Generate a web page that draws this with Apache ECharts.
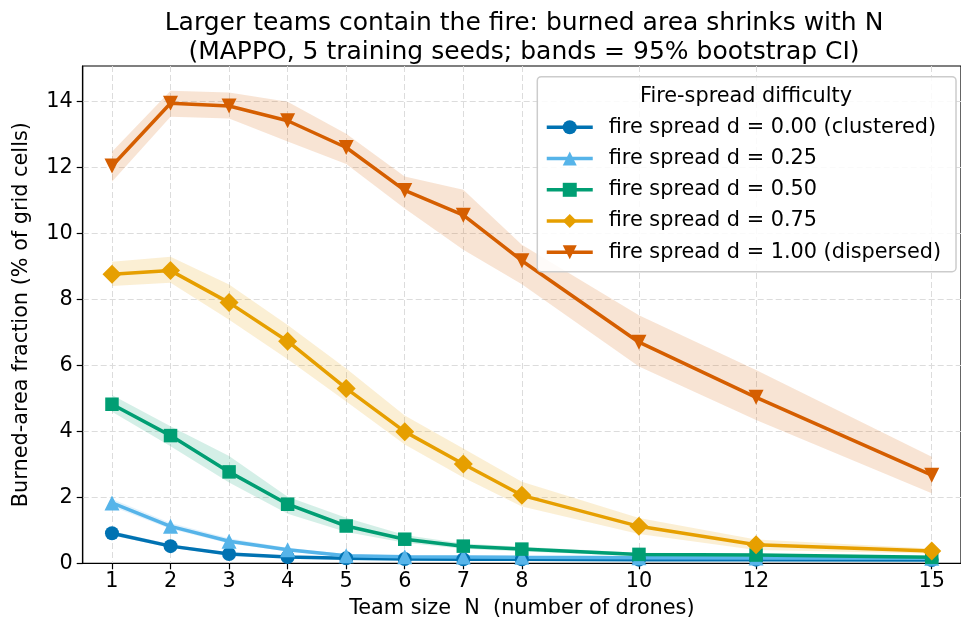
<!DOCTYPE html>
<html>
<head>
<meta charset="utf-8">
<script src="https://cdn.jsdelivr.net/npm/echarts@6/dist/echarts.min.js"></script>
<style>
  html, body { margin: 0; padding: 0; background: #fff; }
  #chart { width: 961px; height: 627px; }
</style>
</head>
<body>
<div id="chart"></div>
<script>
// Team sizes (x) and tick labels
const teamSizes = [1, 2, 3, 4, 5, 6, 7, 8, 10, 12, 15];
const xTicks = [1, 2, 3, 4, 5, 6, 7, 8, 10, 12, 15];
const yTicks = [0, 2, 4, 6, 8, 10, 12, 14];

// Burned-area fraction (% of grid cells): mean and 95% bootstrap CI bounds
const d000Mean = [0.91, 0.52, 0.28, 0.19, 0.15, 0.13, 0.12, 0.12, 0.11, 0.11, 0.10];
const d000Lo   = [0.84, 0.47, 0.24, 0.16, 0.13, 0.11, 0.10, 0.10, 0.09, 0.09, 0.08];
const d000Hi   = [0.98, 0.58, 0.32, 0.22, 0.17, 0.15, 0.14, 0.14, 0.13, 0.13, 0.12];

const d025Mean = [1.83, 1.12, 0.67, 0.41, 0.23, 0.20, 0.19, 0.18, 0.17, 0.16, 0.15];
const d025Lo   = [1.72, 1.04, 0.60, 0.36, 0.20, 0.17, 0.16, 0.15, 0.14, 0.13, 0.12];
const d025Hi   = [1.95, 1.22, 0.76, 0.47, 0.28, 0.24, 0.22, 0.21, 0.20, 0.19, 0.18];

const d050Mean = [4.82, 3.87, 2.77, 1.79, 1.13, 0.73, 0.52, 0.43, 0.27, 0.25, 0.18];
const d050Lo   = [4.59, 3.55, 2.45, 1.50, 0.95, 0.62, 0.44, 0.36, 0.22, 0.20, 0.14];
const d050Hi   = [5.10, 4.15, 3.25, 2.02, 1.38, 0.86, 0.60, 0.50, 0.32, 0.30, 0.22];

const d075Mean = [8.76, 8.87, 7.90, 6.73, 5.30, 3.99, 3.01, 2.06, 1.12, 0.56, 0.37];
const d075Lo   = [8.40, 8.50, 7.38, 6.18, 4.90, 3.60, 2.60, 1.72, 0.89, 0.40, 0.30];
const d075Hi   = [9.14, 9.29, 8.45, 7.22, 5.90, 4.48, 3.48, 2.47, 1.37, 0.72, 0.45];

const d100Mean = [12.04, 13.94, 13.86, 13.41, 12.60, 11.30, 10.55, 9.17, 6.70, 5.03, 2.67];
const d100Lo   = [11.56, 13.53, 13.48, 12.78, 12.10, 10.75, 9.50, 8.46, 5.96, 4.34, 2.12];
const d100Hi   = [12.47, 14.32, 14.27, 13.99, 13.02, 11.72, 11.32, 9.65, 7.52, 5.86, 3.23];

const seriesNames = [
  'fire spread d = 0.00 (clustered)',
  'fire spread d = 0.25',
  'fire spread d = 0.50',
  'fire spread d = 0.75',
  'fire spread d = 1.00 (dispersed)'
];

const FONT = 'DejaVu Sans';
const LINE_W = 3.5;

const groups = [
  { name: seriesNames[0], mean: d000Mean, lo: d000Lo, hi: d000Hi, color: '#0072B2', band: 'rgba(0,114,178,0.17)',   symbol: 'circle',   size: 14,   rotate: 0 },
  { name: seriesNames[1], mean: d025Mean, lo: d025Lo, hi: d025Hi, color: '#56B4E9', band: 'rgba(86,180,233,0.17)',  symbol: 'triangle', size: 15,   rotate: 0 },
  { name: seriesNames[2], mean: d050Mean, lo: d050Lo, hi: d050Hi, color: '#009E73', band: 'rgba(0,158,115,0.17)',   symbol: 'rect',     size: 13.5, rotate: 0 },
  { name: seriesNames[3], mean: d075Mean, lo: d075Lo, hi: d075Hi, color: '#E69F00', band: 'rgba(230,159,0,0.17)',   symbol: 'diamond',  size: 19,   rotate: 0 },
  { name: seriesNames[4], mean: d100Mean, lo: d100Lo, hi: d100Hi, color: '#D55E00', band: 'rgba(213,94,0,0.17)',    symbol: 'triangle', size: 15,   rotate: 180 }
];

// Shaded confidence band drawn as one polygon through the axis scales
function bandSeries(g) {
  return {
    type: 'custom',
    silent: true,
    clip: true,
    data: teamSizes.map((n, i) => [n, g.lo[i], g.hi[i]]),
    encode: { x: 0, y: [1, 2] },
    renderItem: function (params, api) {
      if (params.dataIndex !== 0) return null;
      const pts = [];
      for (let i = 0; i < teamSizes.length; i++) pts.push(api.coord([teamSizes[i], g.hi[i]]));
      for (let i = teamSizes.length - 1; i >= 0; i--) pts.push(api.coord([teamSizes[i], g.lo[i]]));
      return { type: 'polygon', shape: { points: pts }, style: { fill: g.band, stroke: null } };
    }
  };
}

function lineSeries(g) {
  return {
    name: g.name,
    type: 'line',
    data: teamSizes.map((n, i) => [n, g.mean[i]]),
    symbol: g.symbol,
    symbolSize: g.size,
    symbolRotate: g.rotate,
    showAllSymbol: true,
    lineStyle: { color: g.color, width: LINE_W },
    itemStyle: { color: g.color },
    emphasis: { disabled: true },
    animation: false
  };
}

const series = [];
groups.forEach(g => { series.push(bandSeries(g)); series.push(lineSeries(g)); });

const chart = echarts.init(document.getElementById('chart'), null, { renderer: 'canvas' });
chart.setOption({
  animation: false,
  backgroundColor: '#ffffff',
  textStyle: { fontFamily: FONT, color: '#000' },
  title: {
    text: 'Larger teams contain the fire: burned area shrinks with N\n(MAPPO, 5 training seeds; bands = 95% bootstrap CI)',
    left: 524,
    top: 9,
    textAlign: 'center',
    padding: 0,
    textStyle: { fontFamily: FONT, fontSize: 25, fontWeight: 'normal', color: '#000', lineHeight: 29 }
  },
  grid: {
    left: 82.7, top: 66, right: -3.9, bottom: 63.7,
    show: true, borderColor: '#000', borderWidth: 1.2, backgroundColor: 'transparent',
    containLabel: false
  },
  legend: {
    data: seriesNames,
    orient: 'vertical',
    left: 537.3,
    top: 76.7,
    padding: [39.6, 15, 8.4, 7.7],
    itemWidth: 46,
    itemHeight: 17.5,
    itemGap: 9.25,
    backgroundColor: 'rgba(255,255,255,0.85)',
    borderColor: '#cccccc',
    borderWidth: 1.5,
    borderRadius: 4,
    selectedMode: false,
    lineStyle: { width: LINE_W },
    textStyle: { fontFamily: FONT, fontSize: 20.8, color: '#000', lineHeight: 22, padding: [0, 0, 0, 11] }
  },
  graphic: [{
    type: 'text',
    x: 746,
    y: 96.5,
    z: 100,
    style: {
      text: 'Fire-spread difficulty',
      fontFamily: FONT, fontSize: 20.8, fill: '#000',
      textAlign: 'center', textVerticalAlign: 'middle'
    }
  }],
  xAxis: {
    type: 'value',
    min: 0.5,
    max: 15.5,
    name: 'Team size  N  (number of drones)',
    nameLocation: 'middle',
    nameGap: 35,
    nameTextStyle: { fontFamily: FONT, fontSize: 20.8, color: '#000' },
    axisLine: { show: true, onZero: false, lineStyle: { color: '#000', width: 1.2 } },
    axisTick: { show: true, inside: false, length: 6, customValues: xTicks, lineStyle: { color: '#000', width: 1.2 } },
    axisLabel: { customValues: xTicks, margin: 8, fontFamily: FONT, fontSize: 20.8, color: '#000' },
    splitLine: { show: true, lineStyle: { color: '#dcdcdc', width: 1, type: [6, 3] } }
  },
  yAxis: {
    type: 'value',
    min: 0,
    max: 15.07,
    interval: 2,
    name: 'Burned-area fraction (% of grid cells)',
    nameLocation: 'middle',
    nameGap: 51,
    nameTextStyle: { fontFamily: FONT, fontSize: 20.8, color: '#000' },
    axisLine: { show: true, lineStyle: { color: '#000', width: 1.2 } },
    axisTick: { show: true, inside: false, length: 6, customValues: yTicks, lineStyle: { color: '#000', width: 1.2 } },
    axisLabel: { customValues: yTicks, margin: 10, fontFamily: FONT, fontSize: 20.8, color: '#000' },
    splitLine: { show: true, lineStyle: { color: '#dcdcdc', width: 1, type: [6, 3] } }
  },
  series: series
});
</script>
</body>
</html>
